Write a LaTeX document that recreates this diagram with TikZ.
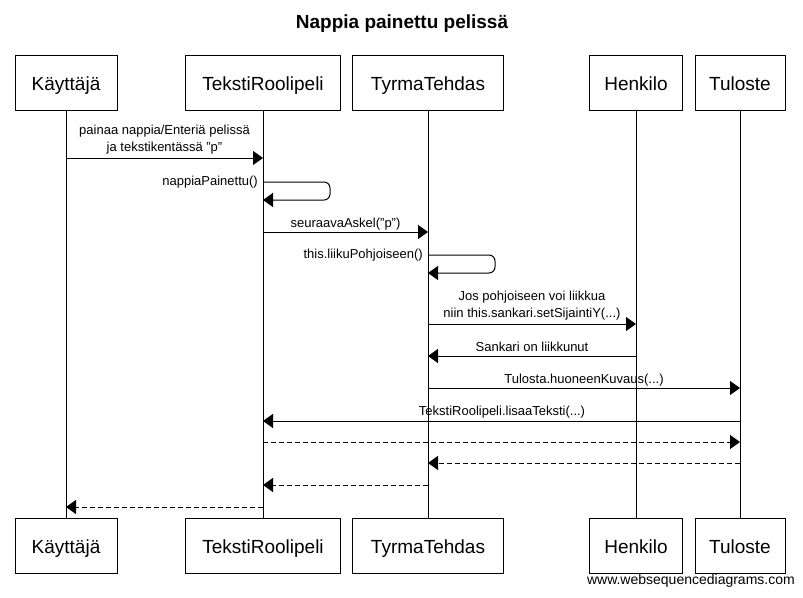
\documentclass[tikz,border=0pt]{standalone}
\usepackage{fontspec}
\setmainfont{Liberation Sans}
\usetikzlibrary{arrows.meta}
\begin{document}
\begin{tikzpicture}[x=1pt,y=-1pt,
  actor/.style={draw, line width=1pt, fill=white, minimum height=55pt, font=\fontsize{19}{23}\selectfont, inner sep=0pt, text height=18pt, text depth=3pt},
  life/.style={line width=1pt},
  msg/.style={line width=1pt, -{Triangle[length=10pt,width=14pt]}},
  ret/.style={msg, dash pattern=on 5pt off 3pt},
  lbl/.style={font=\fontsize{13}{17}\selectfont, inner sep=0pt, align=center},
  lbl1/.style={lbl, text height=9.5pt, text depth=3pt},
]
\useasboundingbox[fill=white] (0,0) rectangle (803,597);
\node[font=\fontsize{19}{23}\selectfont\bfseries, text height=14pt, text depth=4pt] (title) at (402,23) {Nappia painettu pelissä};

% top boxes
\node[actor, minimum width=102pt] (kT)  at (66,82.5)   {Käyttäjä};
\node[actor, minimum width=155pt] (trT) at (263,82.5)  {TekstiRoolipeli};
\node[actor, minimum width=151pt] (ttT) at (428,82.5)  {TyrmaTehdas};
\node[actor, minimum width=93pt]  (hT)  at (636,82.5)  {Henkilo};
\node[actor, minimum width=90pt]  (tT)  at (740,82.5)  {Tuloste};
% bottom boxes
\node[actor, minimum width=102pt] (kB)  at (66,545.5)  {Käyttäjä};
\node[actor, minimum width=155pt] (trB) at (263,545.5) {TekstiRoolipeli};
\node[actor, minimum width=151pt] (ttB) at (428,545.5) {TyrmaTehdas};
\node[actor, minimum width=93pt]  (hB)  at (636,545.5) {Henkilo};
\node[actor, minimum width=90pt]  (tB)  at (740,545.5) {Tuloste};

% lifelines
\draw[life] (kT) -- (kB);
\draw[life] (trT) -- (trB);
\draw[life] (ttT) -- (ttB);
\draw[life] (hT) -- (hB);
\draw[life] (tT) -- (tB);

% 1
\node[lbl] (l1) at (164.5,140) {painaa nappia/Enteriä pelissä\\ja tekstikentässä "p"};
\draw[msg] (kT |- 0,158) -- (trT |- 0,158);
% 2
\node[lbl1, anchor=east] (l2) at (258,182) {nappiaPainettu()};
\draw[msg, rounded corners=6pt] (trT |- 0,182) -- (330,182) -- (330,200) -- (trT |- 0,200);
% 3
\node[lbl1] (l3) at (345.5,224) {seuraavaAskel("p")};
\draw[msg] (trT |- 0,232) -- (ttT |- 0,232);
% 4
\node[lbl1, anchor=east] (l4) at (423,255) {this.liikuPohjoiseen()};
\draw[msg, rounded corners=6pt] (ttT |- 0,255) -- (495,255) -- (495,273) -- (ttT |- 0,273);
% 5
\node[lbl] (l5) at (532,305.5) {Jos pohjoiseen voi liikkua\\niin this.sankari.setSijaintiY(...)};
\draw[msg] (ttT |- 0,324) -- (hT |- 0,324);
% 6
\node[lbl1] (l6) at (532,348) {Sankari on liikkunut};
\draw[msg] (hT |- 0,356) -- (ttT |- 0,356);
% 7
\node[lbl1] (l7) at (584,380) {Tulosta.huoneenKuvaus(...)};
\draw[msg] (ttT |- 0,388) -- (tT |- 0,388);
% 8
\node[lbl1] (l8) at (502,412) {TekstiRoolipeli.lisaaTeksti(...)};
\draw[msg] (tT |- 0,421) -- (trT |- 0,421);
% returns
\draw[ret] (trT |- 0,442) -- (tT |- 0,442);
\draw[ret] (tT |- 0,463) -- (ttT |- 0,463);
\draw[ret] (ttT |- 0,485) -- (trT |- 0,485);
\draw[ret] (trT |- 0,507) -- (kT |- 0,507);

\node[font=\fontsize{14}{16}\selectfont, anchor=east, inner sep=0pt] (wm) at (795,581) {www.websequencediagrams.com};
\end{tikzpicture}
\end{document}
